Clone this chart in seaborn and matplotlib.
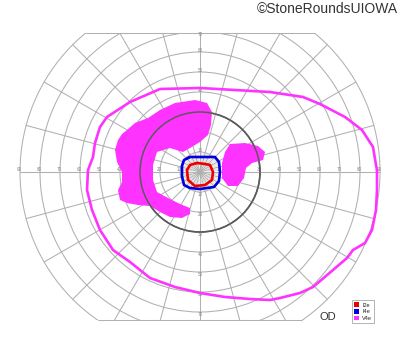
import numpy as np
import pandas as pd
import seaborn as sns
import matplotlib
matplotlib.use("Agg")
import matplotlib.pyplot as plt
from matplotlib.patches import Circle, Rectangle, Patch

# ---------------- data (degrees of visual field, x: temporal/nasal, y: sup/inf) -------------
v4e_x = [88.5, 88, 86.5, 81, 72.5, 60, 51.5, 35, 0, -20, -35, -46.5, -50, -52.5, -53.5, -56,
         -56.5, -54, -50, -43.5, -35, -25, -12.5, 0, 12.5, 25, 35, 40, 50, 56.5, 66.5, 73.5,
         76.5, 82.5, 86, 88, 88.5]
v4e_y = [1, 3.5, 12.5, 21, 27.5, 34, 37.5, 40, 42, 41.5, 35, 27.5, 22.5, 14.5, 7.5, 1,
         -9, -19, -29, -39, -45, -53, -57.5, -60.5, -62.5, -63.5, -64, -63, -60.5, -57.5, -49, -43,
         -39, -35.5, -29, -19, -9]

i4e_x = [-6, -5, 7.5, 9.5, 10, 9.5, 7, 0, -5, -8, -9, -9, -8]
i4e_y = [7, 7.5, 7.5, 5, 0, -4.5, -7.5, -8.5, -8, -6.5, -2, 3, 6]

i2e_x = [-1.5, 2.5, 5, 6.5, 6, 2.5, -2.5, -6, -6.5, -5]
i2e_y = [4.5, 4, 3.5, 0, -4, -6.5, -7, -4, 1, 3.5]

blob_left_x = [-36.5, -32.5, -26, -20, -12.5, -2.5, 3.5, 6, 5.5, 4, 0, -5, -8.5, -15, -21.5,
               -23.5, -23.5, -21.5, -16, -10, -5, -5, -9, -15, -20, -25, -31, -36.5, -40, -41,
               -39, -39, -41.5, -42.5, -41, -39]
blob_left_y = [21, 24.5, 27, 31, 34.5, 36, 34.5, 30, 23.5, 18.5, 15, 12, 10, 12, 10,
               3.5, -4, -10, -13, -16, -18, -21, -23, -22.5, -20, -17, -16.5, -15.5, -14, -9,
               -5, 0, 5, 11, 16, 19]

blob_right_x = [15, 22.5, 29, 32.5, 31.5, 26, 23, 22, 19, 14, 11, 11, 12.5]
blob_right_y = [14, 14.5, 13, 10, 6, 4.5, 2, -3, -7, -7, -3, 4.5, 10]

isopter_names = ["I2e", "I4e", "V4e"]
isopter_colors = ["#ee0000", "#0000dd", "#ff33ff"]

ring_degrees = [10, 20, 30, 40, 50, 60, 70, 80, 90]
meridian_step = 15
TOP_CLIP, BOTTOM_CLIP = 69.5, -74

# ---------------- figure ----------------
sns.set_style("white")
plt.rcParams['font.family'] = ['Liberation Sans', 'DejaVu Sans']

fig = plt.figure(figsize=(4.0, 3.52), dpi=100)
ax = fig.add_axes([0, 0, 1, 1])
ax.set_xlim(-100, 100)
ax.set_ylim(-90, 86)
ax.set_aspect('equal')
ax.axis('off')

clip = Rectangle((-100, BOTTOM_CLIP), 200, TOP_CLIP - BOTTOM_CLIP, transform=ax.transData)

grid_c = "#b0b0b0"
GLW = 0.75
# rings
for r in ring_degrees:
    c = Circle((0, 0), r, fill=False, lw=GLW if r != 30 else 1.1,
               ec="#5a5a5a" if r == 30 else grid_c, zorder=1)
    ax.add_patch(c)
    c.set_clip_path(clip)

# meridians
for a in range(0, 360, meridian_step):
    t = np.deg2rad(a)
    ln, = ax.plot([0, 90 * np.cos(t)], [0, 90 * np.sin(t)], color=grid_c, lw=GLW, zorder=1)
    ln.set_clip_path(clip)
for a in range(0, 360, 5):
    if a % meridian_step == 0:
        continue
    t = np.deg2rad(a)
    ax.plot([3.5 * np.cos(t), 10 * np.cos(t)], [3.5 * np.sin(t), 10 * np.sin(t)],
            color="#d2d2d2", lw=0.45, zorder=1)

# top / bottom clip edges
xt = np.sqrt(90 ** 2 - TOP_CLIP ** 2)
xb = np.sqrt(90 ** 2 - BOTTOM_CLIP ** 2)
ax.plot([-xt, xt], [TOP_CLIP, TOP_CLIP], color=grid_c, lw=GLW, zorder=1)
ax.plot([-xb, xb], [BOTTOM_CLIP, BOTTOM_CLIP], color=grid_c, lw=GLW, zorder=1)

# numeric labels
lab_kw = dict(fontsize=3.3, color="#8a8a8a", ha='center', va='center', zorder=2)
for r in ring_degrees:
    ax.text(r - 0.5, 1.2, str(r), **lab_kw)
    ax.text(-r - 0.5, 1.2, str(r), **lab_kw)
for r in ring_degrees[:7]:
    ax.text(0, min(r + 1, TOP_CLIP - 1), str(r), **lab_kw)
    ax.text(0, -r - 1.3, str(r), **lab_kw)

# filled V4e areas
ax.fill(blob_left_x, blob_left_y, color=isopter_colors[2], lw=0, zorder=3)
ax.fill(blob_right_x, blob_right_y, color=isopter_colors[2], lw=0, zorder=3)
# redraw dark ring over fill
c30 = Circle((0, 0), 30, fill=False, lw=1.1, ec="#5a5a5a", zorder=3.5)
ax.add_patch(c30)


def closed(xs, ys):
    return pd.DataFrame({"x": list(xs) + [xs[0]], "y": list(ys) + [ys[0]]})


for name, xs, ys, col in [("V4e", v4e_x, v4e_y, isopter_colors[2]),
                          ("I4e", i4e_x, i4e_y, isopter_colors[1]),
                          ("I2e", i2e_x, i2e_y, isopter_colors[0])]:
    d = closed(xs, ys)
    sns.lineplot(data=d, x="x", y="y", sort=False, estimator=None, color=col,
                 lw=1.9, ax=ax, zorder=4)

ax.set_xlim(-100, 100)
ax.set_ylim(-90, 86)
ax.axis('off')

handles = [Patch(facecolor=c, edgecolor='none', label=n) for n, c in zip(isopter_names, isopter_colors)]
leg = ax.legend(handles=handles, loc='lower right', bbox_to_anchor=(0.935, 0.083),
                fontsize=4, handlelength=0.9, handleheight=0.9, borderpad=0.35,
                labelspacing=0.25, handletextpad=0.6, borderaxespad=0, fancybox=False,
                framealpha=1, edgecolor="#aaaaaa")
leg.get_frame().set_linewidth(0.6)

ax.text(64, -72.5, "OD", fontsize=8, color="#333333", ha='center', va='center')
fig.text(0.995, 0.974, "\u00a9StoneRoundsUIOWA", fontsize=10, color="#333333",
         ha='right', va='center')

fig.savefig("out.png", dpi=100)
